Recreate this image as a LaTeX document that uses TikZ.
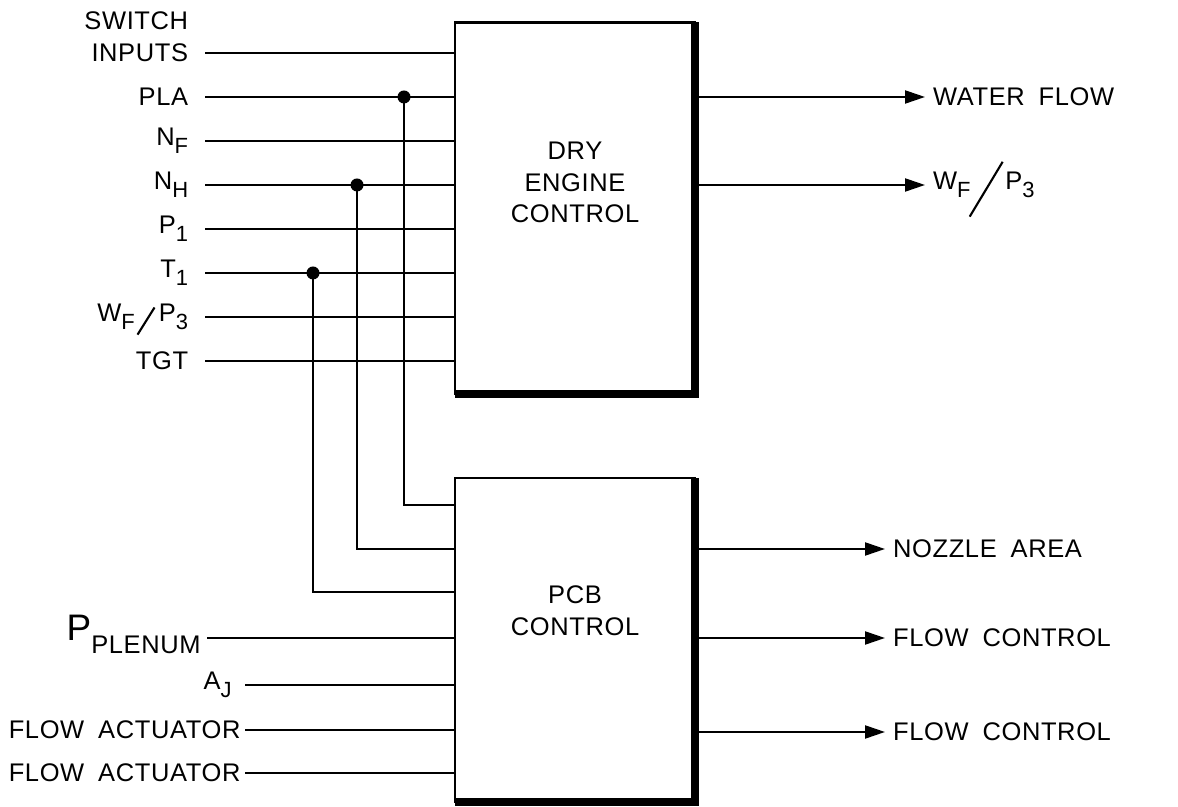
\documentclass[tikz,border=0pt]{standalone}
\usepackage{fontspec}
\setmainfont{Liberation Sans}[LetterSpace=2.5,WordSpace=1.8]
\usepackage{tikz}
\usetikzlibrary{arrows.meta, calc}

\newcommand\lo[1]{\raisebox{-4.5pt}{\fontsize{12.5}{12.5}\selectfont #1}}
\newcommand\smallslash{\kern1pt\smash{\raisebox{-0.27cm}{\rotatebox{58}{\rule{0.64cm}{1.2pt}}}}\kern2pt}
\newcommand\bigslash{\kern-1pt\smash{\raisebox{-0.55cm}{\rotatebox{59}{\rule{1.28cm}{1.2pt}}}}\kern1pt}

\begin{document}
\begin{tikzpicture}[line width=1.2pt, >={Triangle[length=0.4cm,width=0.26cm]}]

\tikzset{
    blk/.style={rectangle, draw, line width=1.3pt, outer sep=0pt,
                minimum width=4.8cm, minimum height=#1},
    inlbl/.style={anchor=east, inner xsep=9pt, inner ysep=2pt, font=\fontsize{14.5}{17}\selectfont},
    outlbl/.style={anchor=west, inner xsep=4pt, font=\fontsize{14.5}{17}\selectfont},
    boxtxt/.style={align=center, font=\fontsize{14.5}{18}\selectfont},
    jdot/.style={fill, circle, inner sep=0pt, minimum size=0.26cm}
}

\useasboundingbox (0,0) rectangle (23.56,16.14);

% ── blocks ──
\node[blk=7.43cm] (dry) at (11.5,11.975) {};
\node[blk=6.48cm] (pcb) at (11.5,3.34)   {};
\draw[line width=4pt] (dry.north east) -- (dry.south east) -- (dry.south west);
\draw[line width=4pt] (pcb.north east) -- (pcb.south east) -- (pcb.south west);

\node[boxtxt] (drytxt) at (11.5,12.49) {DRY\\ENGINE\\CONTROL};
\node[boxtxt] (pcbtxt) at (11.5,3.92)  {PCB\\CONTROL};

% ── dry engine inputs ──
\node[inlbl] (swi) at (4.1,15.08) {INPUTS};
\node[inlbl, anchor=south east, yshift=3pt] (sws) at (swi.north east) {SWITCH};
\node[inlbl] (pla) at (4.1,14.2)  {PLA};
\node[inlbl] (nf)  at (4.1,13.32) {N\lo{F}};
\node[inlbl] (nh)  at (4.1,12.44) {N\lo{H}};
\node[inlbl] (p1)  at (4.1,11.56) {P\lo{1}};
\node[inlbl] (t1)  at (4.1,10.68) {T\lo{1}};
\node[inlbl] (wfp) at (4.1,9.8)   {W\lo{F}\smallslash P\lo{3}};
\node[inlbl] (tgt) at (4.1,8.92)  {TGT};

\draw (swi.east) -- (swi.east -| dry.west);
\draw (pla.east) -- (pla.east -| dry.west);
\draw (nf.east)  -- (nf.east -| dry.west);
\draw (nh.east)  -- (nh.east -| dry.west);
\draw (p1.east)  -- (p1.east -| dry.west);
\draw (t1.east)  -- (t1.east -| dry.west);
\draw (wfp.east) -- (wfp.east -| dry.west);
\draw (tgt.east) -- (tgt.east -| dry.west);

% ── branches to pcb ──
\node[jdot] (jpla) at (8.08,14.2)  {};
\node[jdot] (jnh)  at (7.14,12.44) {};
\node[jdot] (jt1)  at (6.26,10.68) {};

\draw (jpla.center) |- (pcb.west |- 0,6.04);
\draw (jnh.center)  |- (pcb.west |- 0,5.16);
\draw (jt1.center)  |- (pcb.west |- 0,4.3);

% ── pcb inputs ──
\node[inlbl, inner xsep=3pt] (pplen) at (4.14,3.38)
    {\raisebox{0pt}[15pt][12pt]{{\fontsize{21}{21}\selectfont P}\raisebox{-7.4pt}{PLENUM}}};
\node[inlbl, inner xsep=7pt] (aj)  at (4.9,2.44) {A\lo{J}};
\node[inlbl, inner xsep=2pt] (fa1) at (4.9,1.54) {FLOW ACTUATOR};
\node[inlbl, inner xsep=2pt] (fa2) at (4.9,0.68) {FLOW ACTUATOR};

\draw (pplen.east) -- (pplen.east -| pcb.west);
\draw (aj.east)    -- (aj.east -| pcb.west);
\draw (fa1.east)   -- (fa1.east -| pcb.west);
\draw (fa2.east)   -- (fa2.east -| pcb.west);

% ── outputs ──
\node[outlbl] (wflow) at (18.5,14.2)  {WATER FLOW};
\node[outlbl] (wfp3)  at (18.5,12.44) {W\lo{F}\bigslash P\lo{3}};
\node[outlbl] (noz)   at (17.7,5.16)  {NOZZLE AREA};
\node[outlbl] (fc1)   at (17.7,3.38)  {FLOW CONTROL};
\node[outlbl] (fc2)   at (17.7,1.5)   {FLOW CONTROL};

\draw[->] (wflow.west -| dry.east) -- (wflow.west);
\draw[->] (wfp3.west -| dry.east)  -- (wfp3.west);
\draw[->] (noz.west -| pcb.east)   -- (noz.west);
\draw[->] (fc1.west -| pcb.east)   -- (fc1.west);
\draw[->] (fc2.west -| pcb.east)   -- (fc2.west);

\end{tikzpicture}
\end{document}
